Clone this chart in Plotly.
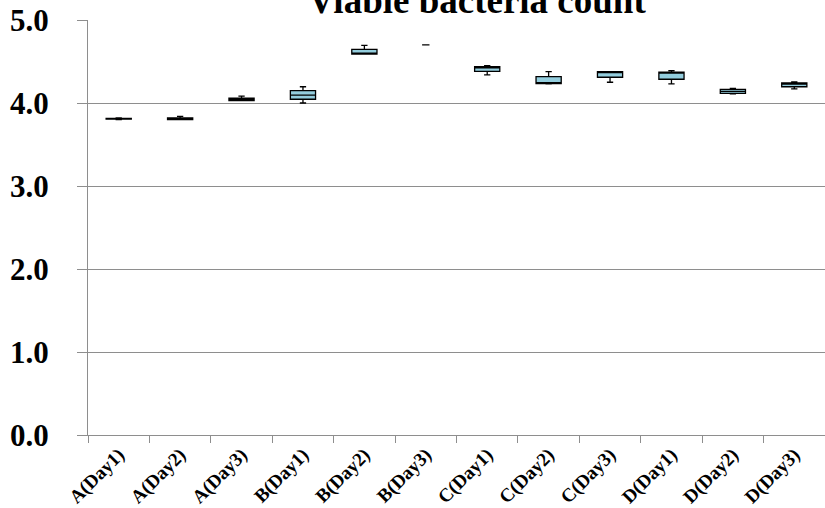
import plotly.graph_objects as go

# Viable bacteria count (log CFU) per sample and day
categories = ["A(Day1)", "A(Day2)", "A(Day3)", "B(Day1)", "B(Day2)", "B(Day3)",
              "C(Day1)", "C(Day2)", "C(Day3)", "D(Day1)", "D(Day2)", "D(Day3)"]
lower = [3.80, 3.80, 4.03, 4.00, 4.59, 4.70, 4.34, 4.23, 4.25, 4.23, 4.11, 4.17]
q1 = [3.805, 3.80, 4.03, 4.045, 4.59, 4.70, 4.38, 4.233, 4.31, 4.286, 4.117, 4.196]
median = [3.81, 3.81, 4.04, 4.096, 4.60, 4.70, 4.43, 4.24, 4.37, 4.36, 4.14, 4.23]
q3 = [3.815, 3.82, 4.057, 4.148, 4.647, 4.70, 4.437, 4.317, 4.377, 4.373, 4.165, 4.241]
upper = [3.82, 3.84, 4.084, 4.196, 4.695, 4.70, 4.45, 4.377, 4.377, 4.389, 4.177, 4.253]

y_ticks = [0, 1, 2, 3, 4, 5]
y_tick_text = ["0.0", "1.0", "2.0", "3.0", "4.0", "5.0"]

FONT = "Liberation Serif"
FILL = "#93CDDD"
GRID = "#8E8E8E"


def pick(values, idx):
    return [values[i] for i in idx]


# samples with a spread get a full box; collapsed ones show only a short cap
spread = [i for i in range(len(categories)) if q3[i] > q1[i]]
flat = [i for i in range(len(categories)) if q3[i] <= q1[i]]

fig = go.Figure()
for idx, width in ((spread, 0.41), (flat, 0.12)):
    if not idx:
        continue
    fig.add_trace(go.Box(
        x=pick(categories, idx),
        lowerfence=pick(lower, idx),
        q1=pick(q1, idx),
        median=pick(median, idx),
        q3=pick(q3, idx),
        upperfence=pick(upper, idx),
        width=width,
        whiskerwidth=0.25 if width > 0.2 else 1.0,
        fillcolor=FILL,
        line=dict(color="black", width=1.3),
        boxpoints=False,
        showlegend=False,
    ))

fig.add_annotation(
    text="<b>Viable bacteria count</b>",
    xref="paper", yref="paper",
    x=(477 - 88) / 737, y=(435 - 0) / 415,
    xanchor="center", yanchor="middle",
    showarrow=False,
    font=dict(family=FONT, size=37, color="black"),
)

fig.update_layout(
    width=825, height=508,
    margin=dict(l=88, r=0, t=20, b=73),
    paper_bgcolor="white", plot_bgcolor="white",
    boxmode="overlay",
)
fig.update_xaxes(
    type="category",
    categoryorder="array", categoryarray=categories,
    range=[-0.5, len(categories) - 0.5],
    showline=True, linecolor=GRID, linewidth=1,
    ticks="outside", tickson="boundaries", ticklen=7, tickcolor=GRID,
    tickangle=-45,
    tickfont=dict(family=FONT, size=19, color="black", weight="bold"),
    showgrid=False,
)
fig.update_yaxes(
    range=[0, 5],
    tickvals=y_ticks, ticktext=y_tick_text,
    showline=True, linecolor=GRID, linewidth=1,
    ticks="outside", ticklen=10, tickcolor=GRID,
    ticklabelstandoff=22,
    tickfont=dict(family=FONT, size=31, color="black", weight="bold"),
    showgrid=True, gridcolor=GRID, gridwidth=1,
    zeroline=False,
)

fig.write_html("out.html")
